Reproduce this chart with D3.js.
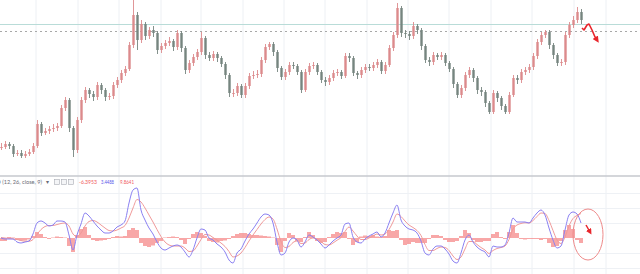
<!DOCTYPE html>
<html>
<head>
<meta charset="utf-8">
<script src="https://cdn.jsdelivr.net/npm/d3@7/dist/d3.min.js"></script>
<style>
body { margin: 0; background: #fff; overflow: hidden; }
</style>
</head>
<body>
<script>
// price candles (open = previous close)
var closes = [853,856,854,846,847,844,846,848,854,876,867,869,871,872,874,892,900,872,850,880,
  900,910,906,903,915,910,903,904,915,920,927,931,955,985,960,976,964,970,967,950,
  954,957,959,953,967,952,930,937,943,948,962,945,942,946,942,936,925,907,907,914,
  905,914,924,925,926,940,953,956,948,932,923,928,935,934,928,910,928,934,935,928,
  920,918,922,927,928,924,944,942,927,925,930,933,932,935,938,929,935,952,965,992,
  967,966,964,974,970,954,940,938,945,943,945,937,931,916,905,912,925,930,922,910,
  908,897,888,907,902,894,888,905,922,920,928,930,933,944,958,965,968,955,945,937,
  938,965,975,980,988,980];
var highs = [857,859,858,856,850,850,849,851,857,880,878,872,874,876,877,895,903,902,874,883,
  903,913,912,909,918,917,912,907,918,923,930,934,958,1000,988,980,978,973,974,969,
  957,960,963,961,970,969,954,940,946,951,968,964,948,949,948,944,938,927,911,917,
  916,917,927,929,930,943,956,958,958,950,934,931,938,938,936,930,931,937,938,937,
  930,923,925,930,931,930,947,947,944,929,933,936,936,938,941,940,938,955,968,997,
  994,970,969,978,976,972,956,943,948,947,948,947,939,933,918,915,928,933,932,924,
  913,910,899,910,909,904,896,908,925,925,931,933,936,947,961,968,970,970,957,947,
  941,968,978,984,993,991];
var lows = [850,851,851,843,844,842,842,844,846,852,864,865,866,868,869,872,889,868,843,847,
  877,897,902,899,900,906,899,900,901,912,917,924,929,952,950,957,960,961,963,946,
  947,951,954,949,950,948,926,927,934,940,945,941,939,939,938,933,921,903,903,904,
  902,902,911,921,922,923,937,950,944,928,920,920,925,931,925,907,908,925,931,925,
  917,914,915,919,924,921,922,938,924,921,922,927,929,929,932,926,926,933,949,962,
  963,962,960,961,966,950,937,934,935,940,940,934,928,912,902,902,909,922,918,906,
  904,893,886,886,898,890,886,886,903,916,917,925,927,930,941,955,962,951,941,934,
  934,935,962,972,977,976];

// MACD pane
var macd = [0,-0.4,-0.4,-0.4,-1.6,-2,-1.6,-1.2,1.6,6,6.8,6,4.8,5.2,6.8,6.8,6.4,1.2,-4.8,1.2,
  5.6,10,8.8,6.8,4.8,3.2,2,2,2.8,4.4,5.2,6.8,14,19.2,20,11.2,7.2,4,1.6,-1.6,
  -4,-4.8,-4,-3.2,-2.8,-3.6,-5.6,-7.6,-4.8,0,3.6,3.2,0,-0.8,-2.4,-3.6,-5.6,-8.8,-10,-6,
  -4.4,-1.2,1.6,3.6,6,8.4,9.6,9.2,6,-1.6,-6.8,-6,-1.6,0,-0.8,-3.6,-1.6,1.2,0.4,-0.8,
  -2.4,-4,-2.8,-1.2,0,1.2,5.6,6,0.4,-1.6,-2,-0.4,0.8,1.6,2.4,0.4,2,6,10,13.2,
  7.2,4.8,3.6,3.2,2,-1.2,-6,-6.8,-4.4,-3.2,-3.2,-4.4,-6.4,-9.2,-10,-6,-0.8,1.2,-1.6,-3.6,
  -4.8,-5.6,-7.6,-3.2,-3.6,-3.6,-2.8,2,8,6.4,6.4,6.4,6,8,10,11.2,9.2,4,-0.8,-4,
  -3.2,3.2,9.2,10.4,9.6,6];
var signal = [0.2,0,-0.2,-0.3,-0.6,-1,-1.3,-1.3,-0.6,1.4,3.4,4.6,5,5,5.4,5.8,6,4.8,1.6,0.6,
  2,4.8,6.6,7,6.4,5.2,4,3,2.8,3.2,4,5,8,12,15.4,14.4,12,9.2,6.4,3.4,
  0.6,-1.6,-2.8,-3.2,-3.2,-3.2,-4,-5.4,-5.2,-3.2,-0.6,1.4,1.2,0.2,-0.8,-2,-3.4,-5.4,-7.6,-7.2,
  -6,-3.8,-1.2,1.2,3.4,5.6,7.4,8.4,7.6,3.6,-1.4,-3.8,-3.4,-1.8,-1.2,-2.2,-2,-0.6,0,-0.4,
  -1.4,-2.6,-2.8,-2,-0.9,0.2,2.6,4.4,2.8,0.8,-0.6,-0.6,0,0.8,1.6,1.2,1.6,3.4,6.4,9.6,
  8.6,6.8,5.2,4.2,3,1,-2.6,-5,-5,-4.2,-3.6,-3.8,-5,-7.2,-8.6,-7.6,-4.4,-1.4,-1.4,-2.6,
  -3.8,-4.8,-6.2,-5,-4.2,-3.8,-3.2,-0.6,3.6,5.2,5.8,6.1,6,7,8.6,10,9.8,7,3,-0.8,
  -2.2,0.4,4.8,7.8,9,9.8];
var hist = [-1.2,-1.2,0.4,0.2,-0.8,-1,-1,-0.6,0.8,2.4,1.6,0.4,-0.4,0.2,0.6,0.4,0.2,-3.2,-5.6,1.2,
  3.6,4.4,1.2,-0.8,-1.2,-1,-0.8,-0.4,0.4,0.8,0.6,0.8,3.2,4,3.2,-2,-3.2,-3.6,-3,-2,
  -1.2,0.2,0.4,0.6,0.4,-0.8,-2.4,-0.4,1.6,2.4,2,0.8,-1.2,-1.6,-1.8,-1.2,-1,-0.4,0.8,1.6,
  2,2,1.6,1.2,1.2,1,0.8,0.6,0.2,-2.8,-5.6,-1.2,2,1.2,-1.2,-1.6,0.4,2.4,1.2,-1.2,
  -2,-1.6,0.4,1.6,2.4,2,2.4,-0.4,-2.8,-1.6,0.6,1,0.8,1.2,0.6,0.4,0.8,3.2,2.8,3.2,
  -0.8,-2.8,-2.4,-1.6,-2,-2,-2,-0.4,1.2,1.2,0.8,-0.8,-1.6,-1.6,-1.2,0.8,3.2,2,-0.8,-1.6,
  -1.6,-1.2,-1.2,1.6,2.4,0.4,-0.4,2.4,5.2,2,-0.4,-0.6,-0.4,-0.4,-0.4,-0.8,-0.4,-2,-3.6,-3.2,
  -1.2,3.2,5.2,3.6,-0.8,-2];

var levels = [976, 969];
var gridIdx = [8.75, 19.25, 29.5, 40, 50, 60.5, 70.75, 81, 91.5, 101.75, 112, 122.5, 132.75, 143.25, 151.25];
var macdGrid = [18, 12, 6, -6, -12];
var fcIdx = [145.25, 145.75, 146.5, 147, 147.75, 148.5, 149];
var fcPrice = [972, 970, 975, 976, 970, 963, 960];
var markIdx = [146.25, 147.25];
var markVal = [5.2, 2.4];
var circleAt = [146.75, 1.4];
var legendVals = ["-6.3953", "3.4488", "9.8641"];

var width = 640;
var height = 274;
var paneSplit = 176;

var svg = d3.select("body")
  .append("svg")
  .attr("width", width)
  .attr("height", height)
  .style("font-family", "Lato, 'Open Sans', sans-serif");

var x = d3.scaleLinear().domain([0, closes.length - 1]).range([1, 581]);
var y = d3.scaleLinear().domain([830, 1000]).range([170, 0]);
var ym = d3.scaleLinear().domain([-14.4, 24.8]).range([274, paneSplit]);

var defs = svg.append("defs");
defs.append("clipPath").attr("id", "top").append("rect")
  .attr("width", width).attr("height", paneSplit);
defs.append("clipPath").attr("id", "bot").append("rect")
  .attr("y", paneSplit).attr("width", width).attr("height", height - paneSplit);
defs.append("marker").attr("id", "head")
  .attr("viewBox", "0 0 10 10").attr("refX", 5).attr("refY", 5)
  .attr("markerWidth", 4).attr("markerHeight", 4).attr("orient", "auto")
  .append("path").attr("d", "M0,0L10,5L0,10z").attr("fill", "#e8262c");

// vertical grid
svg.append("g").selectAll("line").data(gridIdx).join("line")
  .attr("x1", d => x(d)).attr("x2", d => x(d))
  .attr("y1", 0).attr("y2", height)
  .attr("stroke", "#edf0f4").attr("stroke-width", 1);

// horizontal grid in macd pane
svg.append("g").selectAll("line").data(macdGrid).join("line")
  .attr("x1", 0).attr("x2", width)
  .attr("y1", d => Math.round(ym(d)) + 0.5).attr("y2", d => Math.round(ym(d)) + 0.5)
  .attr("stroke", "#eef1f5");

// price levels
svg.append("line")
  .attr("x1", 0).attr("x2", width)
  .attr("y1", Math.round(y(levels[0])) + 0.5).attr("y2", Math.round(y(levels[0])) + 0.5)
  .attr("stroke", "#b9dcd8").attr("stroke-width", 1);
svg.append("line")
  .attr("x1", 0).attr("x2", width)
  .attr("y1", Math.round(y(levels[1])) + 0.5).attr("y2", Math.round(y(levels[1])) + 0.5)
  .attr("stroke", "#a8a8a8").attr("stroke-width", 1).attr("stroke-dasharray", "2,3");

// candles
var main = svg.append("g").attr("clip-path", "url(#top)");
var candle = main.selectAll("g.c").data(closes).join("g").attr("class", "c");
var opens = closes.map((c, i) => i ? closes[i - 1] : c);
var candleColor = (d, i) => d >= opens[i] ? "#dc8a8c" : "#76857f";
candle.append("line")
  .attr("x1", (d, i) => x(i) + 0.5).attr("x2", (d, i) => x(i) + 0.5)
  .attr("y1", (d, i) => y(highs[i])).attr("y2", (d, i) => y(lows[i]))
  .attr("stroke", candleColor).attr("stroke-width", 0.9);
candle.append("rect")
  .attr("x", (d, i) => x(i) - 0.7)
  .attr("width", 2.4)
  .attr("y", (d, i) => y(Math.max(d, opens[i])))
  .attr("height", (d, i) => Math.max(1, Math.abs(y(d) - y(opens[i]))))
  .attr("fill", candleColor);

// forecast arrow
main.append("path")
  .datum(fcIdx.map((d, i) => [d, fcPrice[i]]))
  .attr("d", d3.line().x(d => x(d[0])).y(d => y(d[1])))
  .attr("fill", "none").attr("stroke", "#e8262c").attr("stroke-width", 1.6)
  .attr("stroke-linejoin", "round")
  .attr("marker-end", "url(#head)");

// pane separator
svg.append("line")
  .attr("x1", 0).attr("x2", width)
  .attr("y1", paneSplit).attr("y2", paneSplit)
  .attr("stroke", "#c6c8ce").attr("stroke-width", 1.5);

// macd pane
var low = svg.append("g").attr("clip-path", "url(#bot)");
low.selectAll("rect").data(hist).join("rect")
  .attr("x", (d, i) => x(i) - 2)
  .attr("width", 4)
  .attr("y", d => ym(Math.max(0, d)))
  .attr("height", d => Math.abs(ym(d) - ym(0)))
  .attr("fill", "#f47878").attr("fill-opacity", 0.65);

var lineGen = d3.line().x((d, i) => x(i)).y(d => ym(d)).curve(d3.curveMonotoneX);
low.append("path").datum(signal)
  .attr("d", lineGen)
  .attr("fill", "none").attr("stroke", "#f09a9a").attr("stroke-width", 1);
low.append("path").datum(macd)
  .attr("d", lineGen)
  .attr("fill", "none").attr("stroke", "#8a80f2").attr("stroke-width", 1);

// annotation circle + arrow
low.append("ellipse")
  .attr("cx", x(circleAt[0])).attr("cy", ym(circleAt[1]))
  .attr("rx", 15).attr("ry", 25.5)
  .attr("fill", "none").attr("stroke", "#ee8a8a").attr("stroke-width", 1);
low.append("line")
  .attr("x1", x(markIdx[0])).attr("y1", ym(markVal[0]))
  .attr("x2", x(markIdx[1])).attr("y2", ym(markVal[1]))
  .attr("stroke", "#e8262c").attr("stroke-width", 1.5)
  .attr("marker-end", "url(#head)");

// legend
var leg = svg.append("g").attr("font-size", 5.6);
leg.append("text").attr("x", 42).attr("y", 184).attr("text-anchor", "end")
  .attr("fill", "#6a6d78").text("MACD (12, 26, close, 9)");
leg.append("text").attr("x", 46).attr("y", 184)
  .attr("fill", "#6a6d78").text("▾");
[54, 61, 68].forEach(function (bx) {
  leg.append("rect").attr("x", bx + 0.5).attr("y", 179.5).attr("width", 5).attr("height", 5)
    .attr("fill", "#f4f5f7").attr("stroke", "#a9acb5").attr("stroke-width", 0.6);
});
var legX = [79, 101, 120];
var legW = [18, 13, 14];
var legC = ["#ef5b60", "#5c58ea", "#ef5b60"];
leg.selectAll("text.v").data(legendVals).join("text").attr("class", "v")
  .attr("x", (d, i) => legX[i]).attr("y", 184)
  .attr("textLength", (d, i) => legW[i]).attr("lengthAdjust", "spacingAndGlyphs")
  .attr("fill", (d, i) => legC[i]).text(d => d);
</script>
</body>
</html>
